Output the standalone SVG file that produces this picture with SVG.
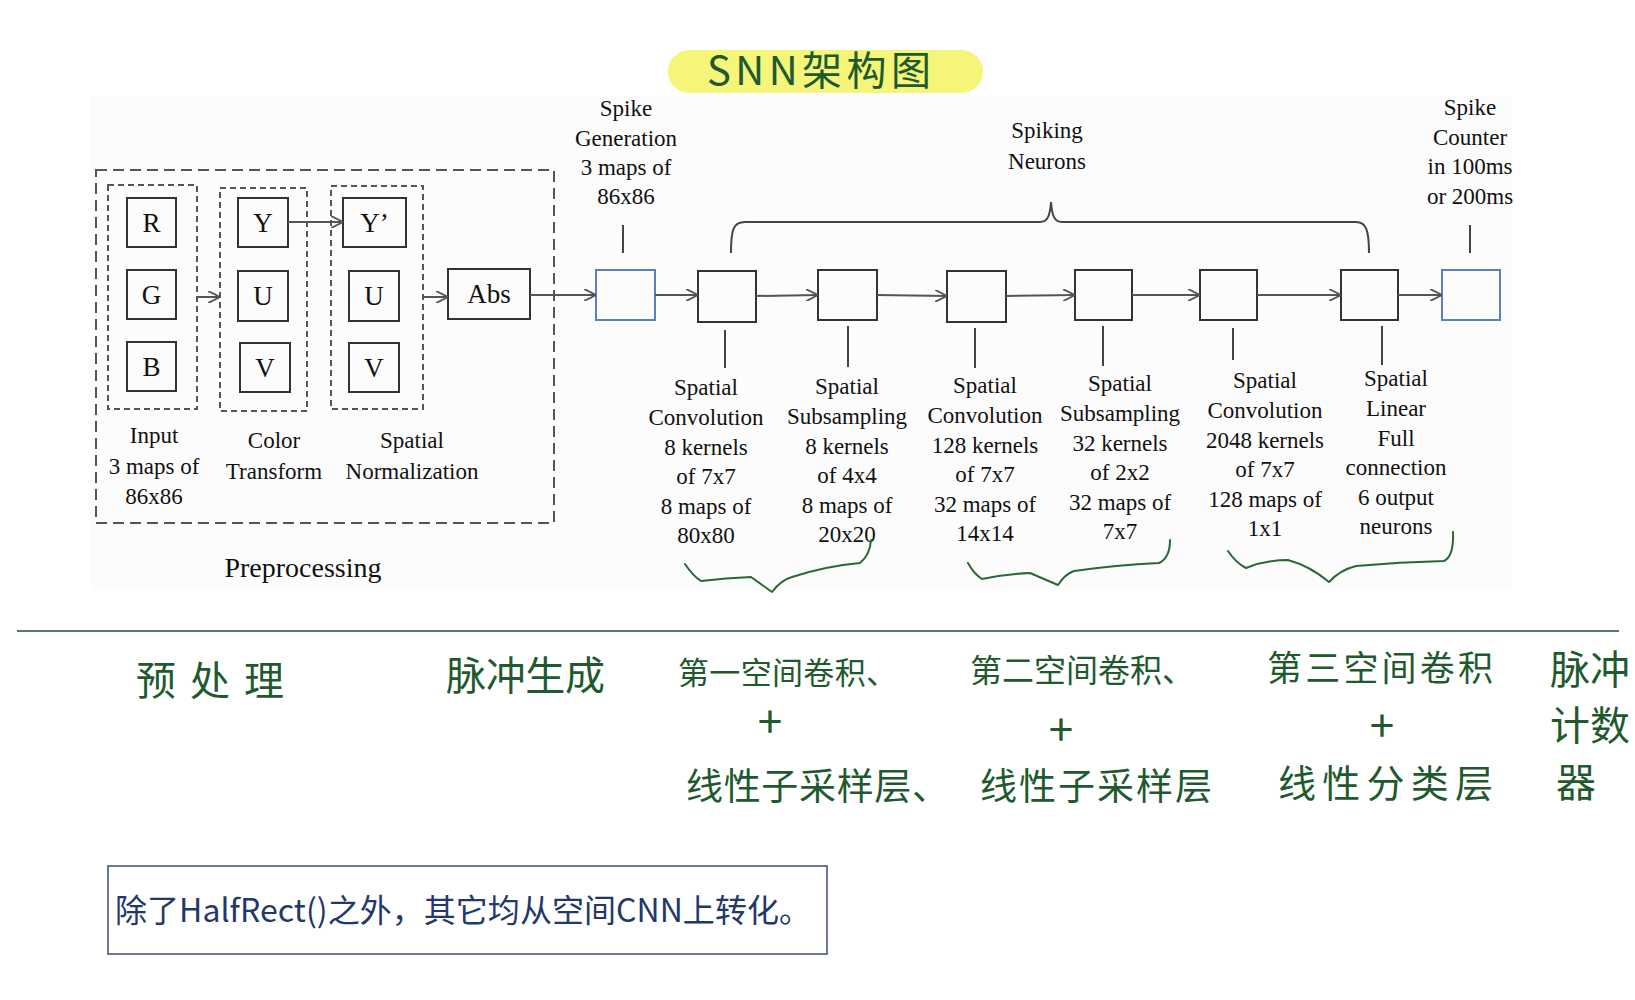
<svg xmlns="http://www.w3.org/2000/svg" width="1635" height="1000" viewBox="0 0 1635 1000">
<style>
.bg{fill:#ffffff}
.box{fill:none;stroke:#333;stroke-width:2}
.bbox{fill:none;stroke:#5b7fc0;stroke-width:2}
.dash-o{fill:none;stroke:#555;stroke-width:2;stroke-dasharray:11 6}
.dash-i{fill:none;stroke:#555;stroke-width:2;stroke-dasharray:6 4}
.lbl{font-family:"Liberation Serif","Times New Roman",serif;font-size:23px;fill:#111;text-anchor:middle}
.big{font-family:"Liberation Serif","Times New Roman",serif;font-size:27px;fill:#111;text-anchor:middle}
.pre{font-family:"Liberation Serif","Times New Roman",serif;font-size:28px;fill:#111;text-anchor:middle}
.tick{stroke:#444;stroke-width:2;fill:none}
.arr{stroke:#555;stroke-width:2;fill:none;marker-end:url(#ah)}
.hw{font-family:"Noto Sans CJK SC","Noto Sans",sans-serif;fill:#1e5a2e}
.plus{font-family:"Noto Sans CJK SC","Noto Sans",sans-serif;fill:#1e5a2e;font-size:44px;text-anchor:middle}
.brace{fill:none;stroke:#2a6638;stroke-width:2;stroke-linejoin:round;stroke-linecap:round}
.note{font-family:"Noto Sans CJK SC","Noto Sans",sans-serif;fill:#22386b}
</style>
<defs>
<marker id="ah" markerUnits="userSpaceOnUse" viewBox="0 0 10 10" refX="10" refY="5" markerWidth="12" markerHeight="12" orient="auto">
<path d="M0,0 L10,5 L0,10" fill="none" stroke="#555" stroke-width="1.6"/>
</marker>
</defs>
<rect class="bg" x="0" y="0" width="1635" height="1000"/>
<rect x="90" y="96" width="1422" height="494" fill="#fcfcfc"/>

<!-- title -->
<g id="title">
<rect x="668" y="50" width="315" height="43" rx="21.5" fill="#f5f57a"/>
<text class="hw" x="707" y="85" font-size="40" textLength="224" lengthAdjust="spacing">SNN架构图</text>
</g>

<!-- preprocessing -->
<g id="preprocessing">
<rect class="dash-o" x="96" y="170" width="458" height="353"/>
<text class="pre" x="303" y="577">Preprocessing</text>
</g>
<g id="input">
<rect class="dash-i" x="108" y="185" width="89" height="224"/>
<rect class="box" x="127" y="198" width="49" height="49"/><text class="big" x="151.5" y="232">R</text>
<rect class="box" x="127" y="270" width="49" height="49"/><text class="big" x="151.5" y="304">G</text>
<rect class="box" x="127" y="342" width="49" height="49"/><text class="big" x="151.5" y="376">B</text>
<text class="lbl" x="154" y="443">Input</text>
<text class="lbl" x="154" y="474">3 maps of</text>
<text class="lbl" x="154" y="504">86x86</text>
</g>
<g id="color-transform">
<rect class="dash-i" x="220" y="188" width="87" height="223"/>
<rect class="box" x="238" y="198" width="50" height="49"/><text class="big" x="263" y="232">Y</text>
<rect class="box" x="238" y="271" width="50" height="50"/><text class="big" x="263" y="305">U</text>
<rect class="box" x="240" y="343" width="50" height="49"/><text class="big" x="265" y="377">V</text>
<text class="lbl" x="274" y="448">Color</text>
<text class="lbl" x="274" y="479">Transform</text>
</g>
<g id="spatial-normalization">
<rect class="dash-i" x="331" y="186" width="92" height="223"/>
<rect class="box" x="343" y="198" width="63" height="49"/><text class="big" x="374.5" y="232">Y’</text>
<rect class="box" x="349" y="271" width="50" height="50"/><text class="big" x="374" y="305">U</text>
<rect class="box" x="349" y="343" width="50" height="49"/><text class="big" x="374" y="377">V</text>
<text class="lbl" x="412" y="448">Spatial</text>
<text class="lbl" x="412" y="479">Normalization</text>
</g>
<g id="abs">
<rect class="box" x="448" y="269" width="82" height="50"/>
<text class="big" x="489" y="303">Abs</text>
</g>

<!-- spike generation -->
<g id="spike-generation">
<rect class="bbox" x="596" y="270" width="59" height="50"/>
<text class="lbl" x="626" y="116">Spike</text>
<text class="lbl" x="626" y="146">Generation</text>
<text class="lbl" x="626" y="175">3 maps of</text>
<text class="lbl" x="626" y="204">86x86</text>
</g>

<g id="conv1">
<rect class="box" x="698" y="271" width="58" height="51"/>
<text class="lbl" x="706" y="395">Spatial</text>
<text class="lbl" x="706" y="425">Convolution</text>
<text class="lbl" x="706" y="455">8 kernels</text>
<text class="lbl" x="706" y="484">of 7x7</text>
<text class="lbl" x="706" y="514">8 maps of</text>
<text class="lbl" x="706" y="543">80x80</text>
</g>
<g id="sub1">
<rect class="box" x="818" y="270" width="59" height="50"/>
<text class="lbl" x="847" y="394">Spatial</text>
<text class="lbl" x="847" y="424">Subsampling</text>
<text class="lbl" x="847" y="454">8 kernels</text>
<text class="lbl" x="847" y="483">of 4x4</text>
<text class="lbl" x="847" y="513">8 maps of</text>
<text class="lbl" x="847" y="542">20x20</text>
</g>
<g id="conv2">
<rect class="box" x="947" y="271" width="59" height="51"/>
<text class="lbl" x="985" y="393">Spatial</text>
<text class="lbl" x="985" y="423">Convolution</text>
<text class="lbl" x="985" y="453">128 kernels</text>
<text class="lbl" x="985" y="482">of 7x7</text>
<text class="lbl" x="985" y="512">32 maps of</text>
<text class="lbl" x="985" y="541">14x14</text>
</g>
<g id="sub2">
<rect class="box" x="1075" y="270" width="57" height="50"/>
<text class="lbl" x="1120" y="391">Spatial</text>
<text class="lbl" x="1120" y="421">Subsampling</text>
<text class="lbl" x="1120" y="451">32 kernels</text>
<text class="lbl" x="1120" y="480">of 2x2</text>
<text class="lbl" x="1120" y="510">32 maps of</text>
<text class="lbl" x="1120" y="539">7x7</text>
</g>
<g id="conv3">
<rect class="box" x="1200" y="270" width="57" height="50"/>
<text class="lbl" x="1265" y="388">Spatial</text>
<text class="lbl" x="1265" y="418">Convolution</text>
<text class="lbl" x="1265" y="448">2048 kernels</text>
<text class="lbl" x="1265" y="477">of 7x7</text>
<text class="lbl" x="1265" y="507">128 maps of</text>
<text class="lbl" x="1265" y="536">1x1</text>
</g>
<g id="linear">
<rect class="box" x="1341" y="270" width="57" height="50"/>
<text class="lbl" x="1396" y="386">Spatial</text>
<text class="lbl" x="1396" y="416">Linear</text>
<text class="lbl" x="1396" y="446">Full</text>
<text class="lbl" x="1396" y="475">connection</text>
<text class="lbl" x="1396" y="505">6 output</text>
<text class="lbl" x="1396" y="534">neurons</text>
</g>
<g id="spike-counter">
<rect class="bbox" x="1442" y="270" width="58" height="50"/>
<text class="lbl" x="1470" y="115">Spike</text>
<text class="lbl" x="1470" y="145">Counter</text>
<text class="lbl" x="1470" y="174">in 100ms</text>
<text class="lbl" x="1470" y="204">or 200ms</text>
</g>
<g id="spiking-neurons">
<text class="lbl" x="1047" y="138">Spiking</text>
<text class="lbl" x="1047" y="169">Neurons</text>
<path class="tick" d="M731,253 C731,230 733,222 745,222 L1040,222 C1048,222 1050,215 1051,202 C1052,215 1054,222 1062,222 L1356,222 C1366,222 1369,230 1369,253"/>
</g>

<!-- connectors -->
<g id="connectors">
<line class="arr" x1="197" y1="297" x2="220" y2="297"/>
<line class="arr" x1="288" y1="222" x2="343" y2="222"/>
<line class="arr" x1="423" y1="297" x2="448" y2="297"/>
<line class="arr" x1="530" y1="295" x2="596" y2="295"/>
<line class="arr" x1="655" y1="295" x2="698" y2="295"/>
<line class="arr" x1="756" y1="296" x2="818" y2="295"/>
<line class="arr" x1="877" y1="295" x2="947" y2="296"/>
<line class="arr" x1="1006" y1="296" x2="1075" y2="295"/>
<line class="arr" x1="1132" y1="295" x2="1200" y2="295"/>
<line class="arr" x1="1257" y1="295" x2="1341" y2="295"/>
<line class="arr" x1="1398" y1="295" x2="1442" y2="295"/>
<line class="tick" x1="623" y1="225" x2="623" y2="253"/>
<line class="tick" x1="1470" y1="225" x2="1470" y2="253"/>
<line class="tick" x1="725" y1="330" x2="725" y2="368"/>
<line class="tick" x1="848" y1="326" x2="848" y2="367"/>
<line class="tick" x1="975" y1="328" x2="975" y2="368"/>
<line class="tick" x1="1103" y1="326" x2="1103" y2="366"/>
<line class="tick" x1="1233" y1="328" x2="1233" y2="360"/>
<line class="tick" x1="1382" y1="326" x2="1382" y2="365"/>
</g>

<!-- handwritten braces -->
<g id="hand-braces">
<path class="brace" d="M685,564 Q693,576 701,581 Q726,578 751,577 L772,592 Q781,580 792,577 Q826,566 860,563 Q870,555 871,540"/>
<path class="brace" d="M968,563 Q974,574 982,579 Q1006,574 1030,573 L1058,585 Q1065,574 1074,571 Q1116,565 1159,563 Q1170,558 1170,540"/>
<path class="brace" d="M1228,551 Q1236,563 1246,568 Q1266,560 1288,560 Q1310,566 1329,582 Q1340,570 1356,566 Q1400,562 1444,561 Q1454,556 1453,532"/>
</g>

<line x1="17" y1="631" x2="1619" y2="631" stroke="#2a4a35" stroke-width="1.5"/>

<!-- handwritten notes -->
<g id="notes">
<text class="hw" x="136" y="695" font-size="40" textLength="148" lengthAdjust="spacing">预处理</text>
<text class="hw" x="446" y="690" font-size="40" textLength="159" lengthAdjust="spacing">脉冲生成</text>
<text class="hw" x="678" y="684" font-size="31" textLength="219" lengthAdjust="spacing">第一空间卷积、</text>
<text class="plus" x="770" y="738">+</text>
<text class="hw" x="686" y="800" font-size="37" textLength="263" lengthAdjust="spacing">线性子采样层、</text>
<text class="hw" x="970" y="682" font-size="32" textLength="224" lengthAdjust="spacing">第二空间卷积、</text>
<text class="plus" x="1061" y="746">+</text>
<text class="hw" x="980" y="800" font-size="37" textLength="232" lengthAdjust="spacing">线性子采样层</text>
<text class="hw" x="1267" y="681" font-size="35" textLength="226" lengthAdjust="spacing">第三空间卷积</text>
<text class="plus" x="1382" y="742">+</text>
<text class="hw" x="1278" y="797" font-size="38" textLength="215" lengthAdjust="spacing">线性分类层</text>
<text class="hw" x="1550" y="684" font-size="40">脉冲</text>
<text class="hw" x="1550" y="740" font-size="40">计数</text>
<text class="hw" x="1556" y="797" font-size="40">器</text>
</g>

<g id="note-box">
<rect x="108" y="866" width="719" height="88" fill="none" stroke="#3b4a7a" stroke-width="1.5"/>
<text class="note" x="115" y="922" font-size="32" textLength="696" lengthAdjust="spacing">除了HalfRect()之外，其它均从空间CNN上转化。</text>
</g>
</svg>
